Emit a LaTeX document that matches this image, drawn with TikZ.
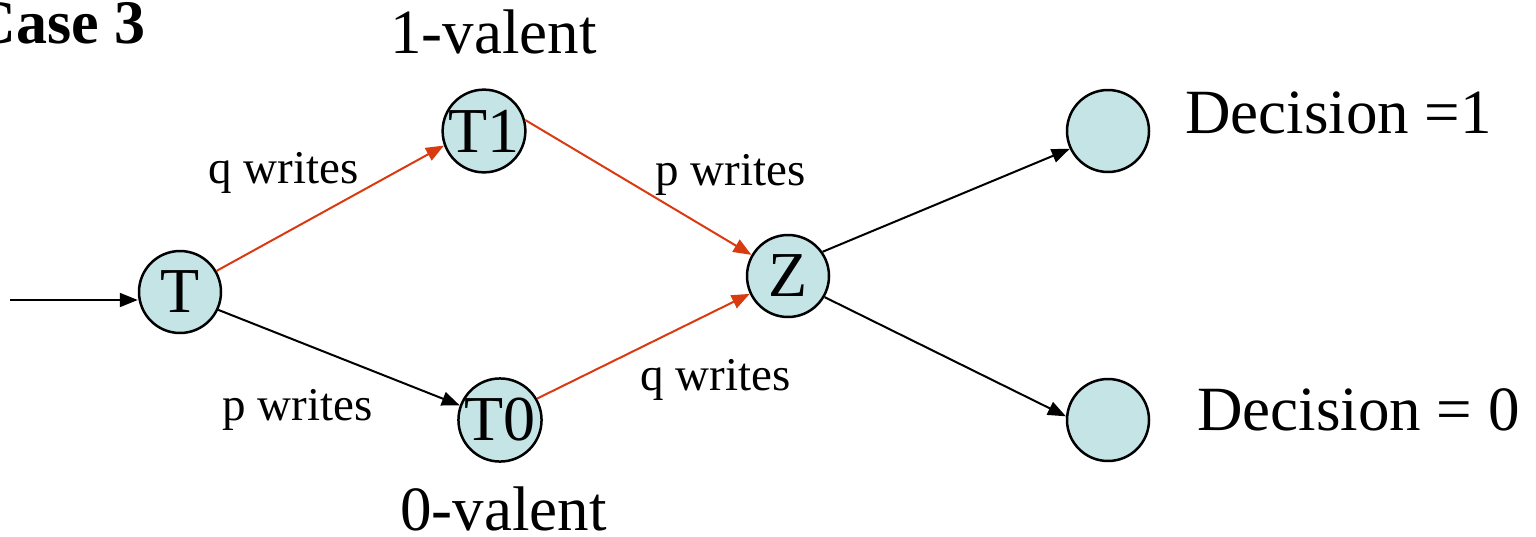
\documentclass[tikz,border=0pt]{standalone}
\usepackage{fontspec}
\setmainfont{Liberation Serif}
\usetikzlibrary{arrows.meta}
\definecolor{statefill}{HTML}{C4E4E6}
\definecolor{redarrow}{HTML}{D93A10}
\tikzset{
  state/.style={circle, draw=black, line width=2.5pt, fill=statefill, minimum size=82pt, inner sep=0pt,
    font=\fontsize{64}{70}\selectfont},
  edge/.style={line width=2pt, -{Triangle[length=18pt,width=14pt]}},
  redge/.style={edge, draw=redarrow, -{Triangle[length=18pt,width=14pt,fill=redarrow]}},
  lbl/.style={inner sep=0pt, anchor=base west, font=\fontsize{47}{52}\selectfont},
  biglbl/.style={inner sep=0pt, anchor=base west, font=\fontsize{63}{70}\selectfont},
}
\begin{document}
\begin{tikzpicture}[x=1pt, y=-1pt]
  \useasboundingbox (0,0) rectangle (1536,536);

  % states
  \node[state] (T)  at (180,292) {T};
  \node[state] (T1) at (484,131) {T1};
  \node[state] (T0) at (500,420) {T0};
  \node[state] (Z)  at (788,276) {Z};
  \node[state] (D1) at (1108,131) {};
  \node[state] (D0) at (1108,420) {};

  % entry arrow
  \coordinate (start) at (10,300);
  \draw[edge] (start) -- (T.west |- start);

  % transitions
  \draw[redge] (T.30) -- (T1.200);
  \draw[edge]  (T.-25) -- (T0.160);
  \draw[redge] (T1.15) -- (Z.150);
  \draw[redge] (T0.30) -- (Z.205);
  \draw[edge]  (Z.35) -- (D1.205);
  \draw[edge]  (Z.-30) -- (D0.175);

  % edge labels
  \node[lbl] (lq1) at (208,183) {q writes};
  \node[lbl] (lp1) at (655,185) {p writes};
  \node[lbl] (lp2) at (222,420) {p writes};
  \node[lbl] (lq2) at (640,390) {q writes};

  % valency and decision labels
  \node[biglbl] (v1) at (390,53) {1-valent};
  \node[biglbl] (v0) at (400,530) {0-valent};
  \node[biglbl] (d1) at (1185,133) {Decision =1};
  \node[biglbl] (d0) at (1197,430) {Decision = 0};

  % heading
  \node[inner sep=0pt, anchor=base east, font=\fontsize{62}{68}\selectfont\bfseries] (case) at (146,43) {Case 3};
\end{tikzpicture}
\end{document}
